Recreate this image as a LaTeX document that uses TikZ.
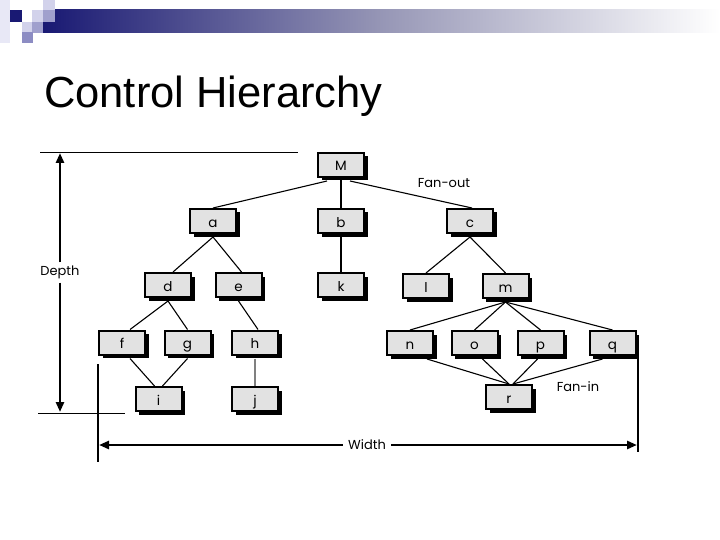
\documentclass[tikz,border=0pt]{standalone}
\usepackage{fontspec}
\setmainfont{Liberation Sans}
\newfontfamily\diagfont{Poppins}
\usetikzlibrary{arrows.meta,shadows}
\definecolor{navy}{RGB}{25,25,115}
\definecolor{lav1}{RGB}{210,210,235}
\definecolor{lav2}{RGB}{160,160,205}
\definecolor{lav3}{RGB}{140,140,195}
\definecolor{lav0}{RGB}{232,232,246}
\definecolor{boxgray}{RGB}{226,226,226}
\tikzset{
  modbox/.style={draw=black, line width=2pt, fill=boxgray, minimum width=46pt, minimum height=24pt, inner sep=0pt,
    text height=12pt, text depth=0pt,
    font=\diagfont\fontsize{13.5}{13.5}\selectfont,
    drop shadow={shadow xshift=3.5pt, shadow yshift=-3.5pt, opacity=1, fill=black}},
  conn/.style={line width=1.1pt, black},
  lbl/.style={font=\diagfont\fontsize{13}{13}\selectfont, inner sep=1pt},
  dimarrow/.style={line width=2.8pt, -{Triangle[length=10pt,width=8pt]}},
  thinline/.style={line width=0.9pt},
}
\begin{document}
\begin{tikzpicture}[x=1pt,y=-1pt]
\useasboundingbox (0,0) rectangle (720,540);
% header
\shade[left color=navy, right color=white, middle color=lav2!70!gray] (43,10) rectangle (720,33);
\fill[lav0] (0,0) rectangle (10,43);
\fill[navy] (10,10) rectangle (22,22);
\fill[lav1] (32,10) rectangle (43,22);
\fill[lav1] (43,0) rectangle (55,10);
\fill[lav2] (43,10) rectangle (55,22);
\fill[lav1] (22,22) rectangle (32,32);
\fill[lav2] (32,22) rectangle (43,33);
\fill[lav3] (22,32) rectangle (33,43);
% title
\node[anchor=base west, inner sep=0pt, font=\fontsize{43.5}{43.5}\selectfont] (title) at (44,108) {Control Hierarchy};
% boxes
\node[modbox] (M) at (341,165) {M};
\node[modbox] (a) at (213,221) {a};
\node[modbox] (b) at (341,221) {b};
\node[modbox] (c) at (470,221) {c};
\node[modbox] (d) at (168,285) {d};
\node[modbox] (e) at (238.5,285) {e};
\node[modbox] (k) at (341,285) {k};
\node[modbox] (l) at (426,286) {l};
\node[modbox] (m) at (505.5,286) {m};
\node[modbox] (f) at (122,342.5) {f};
\node[modbox] (g) at (187.5,342.5) {g};
\node[modbox] (h) at (255,342.5) {h};
\node[modbox] (n) at (410,343) {n};
\node[modbox] (o) at (474.5,343) {o};
\node[modbox] (p) at (540.5,343) {p};
\node[modbox] (q) at (612.5,343) {q};
\node[modbox] (i) at (158.5,399) {i};
\node[modbox] (j) at (255,399) {j};
\node[modbox] (r) at (509,397) {r};
% connectors
\draw[conn] ([xshift=-14pt,yshift=-3pt]M.south) -- (a.north);
\draw[conn] (M.south) -- (b.north);
\draw[conn] ([xshift=9pt,yshift=-3pt]M.south) -- ([xshift=2pt]c.north);
\draw[conn] ([yshift=-3pt]a.south) -- ([xshift=5pt]d.north);
\draw[conn] ([yshift=-3pt]a.south) -- ([xshift=3pt]e.north);
\draw[conn] (b.south) -- (k.north);
\draw[conn] ([yshift=-3pt]c.south) -- (l.north);
\draw[conn] ([yshift=-3pt]c.south) -- (m.north);
\draw[conn] ([yshift=-3pt]d.south) -- ([xshift=8pt]f.north);
\draw[conn] ([yshift=-3pt]d.south) -- (g.north);
\draw[conn] ([yshift=-3pt]e.south) -- ([xshift=3pt]h.north);
\draw[conn] ([xshift=8pt,yshift=-3pt]f.south) -- ([xshift=-4pt]i.north);
\draw[conn] ([yshift=-3pt]g.south) -- ([xshift=4pt]i.north);
\draw[line width=2.2pt, gray] ([yshift=-3pt]h.south) -- (j.north);
\draw[conn] ([yshift=-3pt]m.south) -- (n.north);
\draw[conn] ([yshift=-3pt]m.south) -- (o.north);
\draw[conn] ([yshift=-3pt]m.south) -- (p.north);
\draw[conn] ([yshift=-3pt]m.south) -- (q.north);
\draw[conn] ([xshift=17pt,yshift=-3pt]n.south) -- (r.north);
\draw[conn] ([xshift=8pt,yshift=-3pt]o.south) -- (r.north);
\draw[conn] ([xshift=-3pt,yshift=-3pt]p.south) -- ([xshift=4pt]r.north);
\draw[conn] ([xshift=-10pt,yshift=-3pt]q.south) -- ([xshift=4pt]r.north);
% labels
\node[lbl] (fanout) at (444,183) {Fan-out};
\node[lbl] (fanin) at (578,387) {Fan-in};
% depth
\coordinate (dl1) at (40,152);
\coordinate (dr1) at (298,152);
\coordinate (dl2) at (38,413);
\coordinate (dr2) at (125,413);
\draw[thinline] (dl1) -- (dr1);
\draw[thinline] (dl2) -- (dr2);
\node[lbl, inner sep=0pt] (depth) at (60,272) {Depth};
\coordinate (dtop) at (60,153);
\coordinate (dbot) at (60,412);
\draw[dimarrow] ([yshift=3pt]depth.north) -- (dtop);
\draw[dimarrow] ([yshift=-4pt]depth.south) -- (dbot);
% width
\coordinate (wl1) at (98,364);
\coordinate (wl2) at (98,462);
\coordinate (wr1) at (638,358);
\coordinate (wr2) at (638,452);
\draw[line width=2.2pt] (wl1) -- (wl2);
\draw[line width=2.2pt] (wr1) -- (wr2);
\node[lbl] (width) at (367,445) {Width};
\coordinate (wa) at (99,445);
\coordinate (wb) at (637,445);
\draw[dimarrow] ([xshift=-4pt]width.west) -- (wa);
\draw[dimarrow] ([xshift=4pt]width.east) -- (wb);
\end{tikzpicture}
\end{document}
